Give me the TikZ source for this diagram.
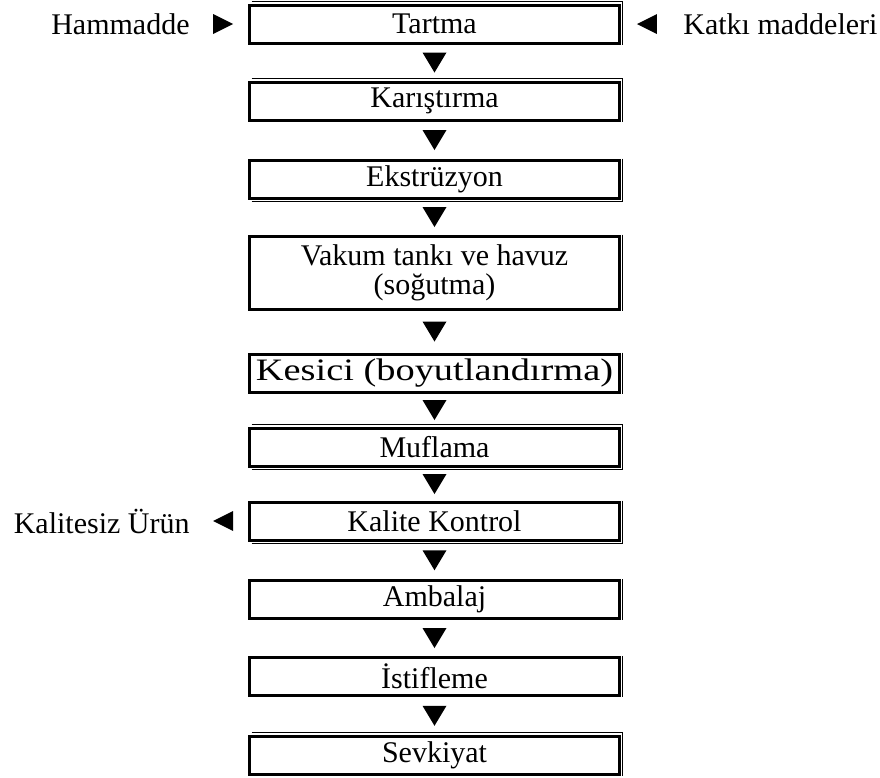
\documentclass[tikz,border=0pt]{standalone}
\usepackage{fontspec}
\setmainfont{Liberation Serif}
\usetikzlibrary{decorations.markings}
\tikzset{
  proc/.style={draw, line width=1.5pt, outer sep=0pt, inner sep=0pt,
    minimum width=185pt, minimum height=19pt, align=center,
    font=\fontsize{15}{14.5}\selectfont},
  side/.style={inner sep=0pt, font=\fontsize{15}{14.5}\selectfont},
  thinline/.style={line width=0.55pt},
  downtri/.style={postaction=decorate, decoration={markings,
    mark=at position 0.5 with {\fill (5pt,0) -- (-5pt,6pt) -- (-5pt,-6pt) -- cycle;}}},
  sidetri/.style={postaction=decorate, decoration={markings,
    mark=at position #1 with {\fill (5pt,0) -- (-5pt,5pt) -- (-5pt,-5pt) -- cycle;}}}
}
\begin{document}
\begin{tikzpicture}[x=0.5pt,y=-0.5pt]
            \useasboundingbox (0,0) rectangle (880,778);
            \node[proc] (tartma) at (434.5,24) {Tartma};
            \node[proc] (karis) at (434.5,101) {Karıştırma};
            \node[proc] (ekstr) at (434.5,179) {Ekstrüzyon};
            \node[proc, minimum height=36.5pt] (vakum) at (434.5,272.5) {Vakum tankı ve havuz\\(soğutma)};
            \node[proc] (kesici) at (434.5,373) {\scalebox{1.28}[1.04]{Kesici (boyutlandırma)}};
            \node[proc] (mufla) at (434.5,447) {Muflama};
            \node[proc] (kalite) at (434.5,521) {Kalite Kontrol};
            \node[proc] (ambalaj) at (434.5,599.5) {Ambalaj};
            \node[proc] (istif) at (434.5,676.5) {İstifleme};
            \node[proc] (sevk) at (434.5,755) {Sevkiyat};
            \node[side, anchor=east] (ham) at (190,24) {Hammadde};
            \node[side, anchor=west] (katki) at (683,24) {Katkı maddeleri};
            \node[side, anchor=east] (kalitesiz) at (190,521) {Kalitesiz Ürün};
            \foreach \n in {tartma,karis,ekstr,vakum,kesici,mufla,kalite,ambalaj,istif,sevk}
              \draw[thinline] ([xshift=1.6pt,yshift=0.75pt]\n.north east) -- ([xshift=1.6pt,yshift=-0.75pt]\n.south east);
            \foreach \n in {tartma,karis,mufla,sevk}
              \draw[thinline] ([xshift=1pt,yshift=1.6pt]\n.north west) -| ([xshift=1.6pt]\n.east);
            \foreach \n in {ekstr,mufla,kalite}
              \draw[thinline] ([xshift=1pt,yshift=-1.6pt]\n.south west) -| ([xshift=1.6pt]\n.east);
            \foreach \a/\b in {tartma/karis,karis/ekstr,ekstr/vakum,vakum/kesici,kesici/mufla,mufla/kalite,kalite/ambalaj,ambalaj/istif,istif/sevk}
              \path[downtri] (\a.south) -- (\b.north);
            \path[sidetri=0.555] (ham.east) -- (tartma.west);
            \path[sidetri=0.567] (katki.west) -- (tartma.east);
            \path[sidetri=0.445] (kalite.west) -- (kalitesiz.east);
            \end{tikzpicture}
\end{document}
